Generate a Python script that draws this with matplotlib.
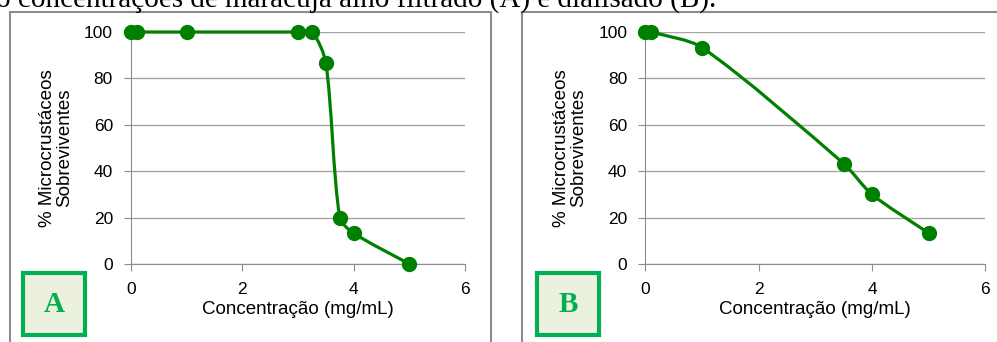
import numpy as np
import matplotlib.pyplot as plt
from matplotlib.path import Path
from matplotlib.patches import PathPatch, Rectangle

# dados
conc_a = [0, 0.1, 1, 3, 3.25, 3.5, 3.75, 4, 5]
sobrev_a = [100, 100, 100, 100, 100, 86.7, 20, 13.3, 0]
conc_b = [0, 0.1, 1, 3.5, 4, 5]
sobrev_b = [100, 100, 93.3, 43.3, 30, 13.3]
xticks = [0, 2, 4, 6]
yticks = [0, 20, 40, 60, 80, 100]
legenda = "o concentrações de maracujá alho filtrado (A) e dialisado (B)."

verde = '#008000'
verde_caixa = '#00b050'


def curva_suave(ax, x, y):
    # bezier suave, tangentes calculadas em escala de pixels
    sx, sy = 56.0, 2.32
    p = np.column_stack([np.array(x) * sx, np.array(y) * sy])
    n = len(p)
    verts = [p[0]]
    codes = [Path.MOVETO]
    for i in range(n - 1):
        a = p[i - 1] if i > 0 else p[i]
        d = p[i + 2] if i + 2 < n else p[i + 1]
        L = np.hypot(*(p[i + 1] - p[i]))
        t1 = p[i + 1] - a
        t2 = d - p[i]
        c1 = p[i] + t1 / max(np.hypot(*t1), 1e-9) * L * 0.27
        c2 = p[i + 1] - t2 / max(np.hypot(*t2), 1e-9) * L * 0.27
        verts += [c1, c2, p[i + 1]]
        codes += [Path.CURVE4] * 3
    verts = np.array(verts) / [sx, sy]
    patch = PathPatch(Path(verts, codes), fill=False, edgecolor=verde,
                      lw=2.3, clip_on=False, zorder=3)
    ax.add_patch(patch)


def grafico(ax, x, y):
    curva_suave(ax, x, y)
    ax.plot(x, y, 'o', color=verde, ms=10, clip_on=False, zorder=4)
    ax.set_xlim(0, 6)
    ax.set_ylim(0, 100)
    ax.set_xticks(xticks)
    ax.set_yticks(yticks)
    ax.grid(axis='y', color='#a6a6a6', lw=1)
    ax.set_axisbelow(True)
    for s in ['top', 'right']:
        ax.spines[s].set_visible(False)
    ax.spines['left'].set_color('#8c8c8c')
    ax.spines['bottom'].set_color('#8c8c8c')
    ax.tick_params(colors='#8c8c8c', length=5, labelcolor='black',
                   labelsize=12.5, pad=8)
    ax.set_xlabel('Concentração (mg/mL)', fontsize=13.5, labelpad=3)
    ax.set_ylabel('% Microcrustáceos\nSobreviventes', fontsize=13.5,
                  labelpad=8, linespacing=1.0)


plt.rcParams['font.family'] = ['Liberation Sans', 'DejaVu Sans']
fig = plt.figure(figsize=(9.97, 3.42), dpi=100)

# molduras dos paineis
fig.patches.append(Rectangle((10 / 997, -0.1), 481 / 997, 1.1 - 12 / 342,
                             transform=fig.transFigure, fill=False,
                             edgecolor='#8c8c8c', lw=1.5))
fig.patches.append(Rectangle((522 / 997, -0.1), 0.6, 1.1 - 12 / 342,
                             transform=fig.transFigure, fill=False,
                             edgecolor='#8c8c8c', lw=1.5))

ax1 = fig.add_axes([131 / 997, 78 / 342, 334 / 997, 232 / 342])
grafico(ax1, conc_a, sobrev_a)
ax2 = fig.add_axes([645.3 / 997, 78 / 342, 340 / 997, 232 / 342])
grafico(ax2, conc_b, sobrev_b)

# caixas com as letras
for x0, letra in [(23, 'A'), (537, 'B')]:
    fig.patches.append(Rectangle((x0 / 997, 7 / 342), 62 / 997, 62 / 342,
                                 transform=fig.transFigure,
                                 facecolor='#ebf1de', edgecolor=verde_caixa,
                                 lw=3))
    fig.text((x0 + 31) / 997, 38 / 342, letra, ha='center', va='center',
             fontsize=21, fontweight='bold', color=verde_caixa,
             family='Liberation Serif')

fig.text(-4 / 997, 1 - 7 / 342, legenda, ha='left', va='baseline',
         fontsize=21, family='Liberation Serif')

fig.savefig('out.png', dpi=100)
